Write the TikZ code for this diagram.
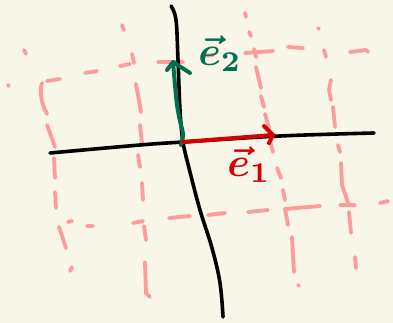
\documentclass[tikz,border=0pt]{standalone}
\definecolor{bg}{HTML}{F8F5E9}
\definecolor{gridpink}{HTML}{FF9B9B}
\definecolor{axgreen}{HTML}{00704F}
\definecolor{axred}{HTML}{D60000}
\begin{document}
\begin{tikzpicture}[x=1pt,y=-1pt,line cap=round,line join=round,
  gridln/.style={gridpink,line width=3.8pt},
  axisln/.style={black,line width=3.6pt},
  vecln/.style={line width=4pt},
  lab/.style={inner sep=0pt,scale=4.1,font=\boldmath}]
\fill[bg] (0,0) rectangle (393,323);
\useasboundingbox (0,0) rectangle (393,323);
% upper grid line
\draw[gridln] (8,85)--(9,86) (47,81)--(60,79) (85,73)--(97,71) (120,66)--(130,64)
  (158,62)--(183,62) (202,56)--(213,55) (245,53)--(273,51) (288,47)--(303,48)
  (350,52)--(366,50)--(368,52);
% lower grid line
\draw[gridln] (87,226)--(93,226) (133,223)--(143,221) (169,218)--(190,216)
  (208,215)--(225,213) (248,212)--(268,210) (285,209)--(320,206)
  (340,205)--(355,205) (380,203)--(388,201) (68,222)--(72,221);
% vertical A
\draw[gridln] (24,50)--(26,54) (42,83) .. controls (39,92) and (42,105) .. (47,114)
  (47,125)--(55,147) (54,158)--(55,178) (55,192)--(56,208) (59,227)--(66,248)
  (72,267)--(70,271);
% vertical B
\draw[gridln] (122,25)--(124,30) (132,54)--(134,63) (136,84)--(141,112)
  (140,125)--(142,143) (138,155)--(140,167) (142,183)--(143,200)
  (144,226)--(146,240) (145,262)--(146,293)--(150,297);
% vertical C
\draw[gridln] (245,13)--(246,17) (249,32)--(251,36) (254,49)--(256,57)
  (256,67)--(261,88) (261,96)--(264,107) (265,114)--(269,128) (270,141)--(273,152)
  (277,168)--(281,178) (283,190)--(285,200) (288,225)--(285,209)
  (292,237)--(294,272) (298,285)--(299,286);
% vertical D
\draw[gridln] (318,28)--(319,29) (324,50)--(326,57) (331,80)--(329,90)--(331,100)
  (333,107)--(335,127) (338,145)--(340,152) (341,163)--(342,185)--(348,203)
  (349,212)--(351,233) (355,257)--(356,268);
% axes
\coordinate (O) at (183,142);
\draw[axisln] plot[smooth,tension=0.6] coordinates {(50,153) (140,145) (O) (280,136) (374,133)};
\draw[axisln] plot[smooth,tension=0.6] coordinates {(171,6) (176,20) (178,60) (180,110) (O) (190,172) (200,210) (212,248) (220,283) (223,317)};
% e2 vector
\coordinate (t2) at (173,62);
\draw[vecln,axgreen] plot[smooth] coordinates {(181,145) (183,134) (180,121) (177,105) (175,85) (t2)};
\draw[vecln,axgreen] (167,70)--(t2)--(190,73);
% e1 vector
\coordinate (t1) at (273,135);
\draw[vecln,axred] (O)--(t1);
\draw[vecln,axred] (264,126)--(t1)--(269,143);
% labels
\node[lab,text=axgreen] (e2lab) at (220,54) {$\vec{e}_2$};
\node[lab,text=axred] (e1lab) at (249,165) {$\vec{e}_1$};
\end{tikzpicture}
\end{document}
